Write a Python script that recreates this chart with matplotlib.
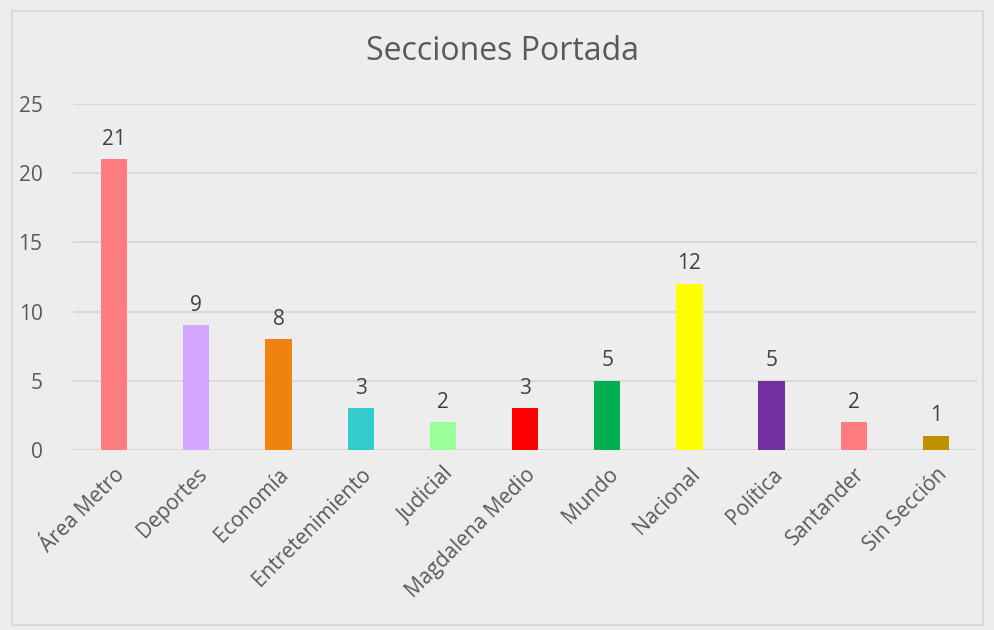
import matplotlib
matplotlib.use("Agg")
import matplotlib.pyplot as plt

categories = ["Área Metro", "Deportes", "Economía", "Entretenimiento", "Judicial",
              "Magdalena Medio", "Mundo", "Nacional", "Política", "Santander", "Sin Sección"]
values = [21, 9, 8, 3, 2, 3, 5, 12, 5, 2, 1]
colors = ["#FF7C80", "#D5A6FF", "#F0820F", "#33CCCC", "#99FF99", "#FF0000",
          "#00B050", "#FFFF00", "#7030A0", "#FF7C80", "#BF9000"]
yticks = [0, 5, 10, 15, 20, 25]

plt.rcParams['font.family'] = ['Open Sans', 'DejaVu Sans']
bg = "#EDEDED"
fig = plt.figure(figsize=(9.95, 6.3), dpi=100, facecolor=bg)
border = plt.Rectangle((0.012, 0.008), 0.976, 0.975, transform=fig.transFigure,
                       fill=False, edgecolor="#D9D9D9", linewidth=1.5)
fig.patches.append(border)
ax = fig.add_axes([0.0734, 0.2857, 0.9086, 0.5493], facecolor=bg)

x = range(len(categories))
bars = ax.bar(x, values, width=0.32, color=colors, zorder=3)
for xi, v in zip(x, values):
    ax.annotate(str(v), (xi, v), xytext=(0, 7), textcoords="offset points",
                ha="center", va="bottom", fontsize=15, color="#404040")

ax.set_ylim(0, 25)
ax.set_xlim(-0.5, len(categories) - 0.5)
ax.set_yticks(yticks)
ax.set_yticklabels([str(t) for t in yticks], fontsize=15, color="#595959")
ax.yaxis.grid(True, color="#D9D9D9", linewidth=1.5, zorder=0)
ax.set_xticks(list(x))
ax.set_xticklabels(categories, rotation=45, ha="right", rotation_mode="anchor",
                   fontsize=15, color="#595959")
ax.tick_params(length=0, pad=10)
ax.tick_params(axis="y", pad=22)
for s in ax.spines.values():
    s.set_visible(False)
ax.axhline(0, color="#D9D9D9", linewidth=1.5, zorder=2)

fig.text(0.505, 0.918, "Secciones Portada", ha="center", va="center",
         fontsize=23, color="#595959")

fig.savefig("out.png", dpi=100, facecolor=bg)
